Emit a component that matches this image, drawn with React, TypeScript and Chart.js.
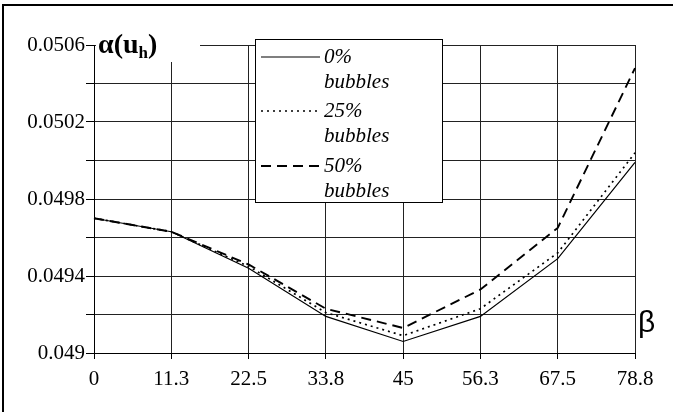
import React, { useEffect, useRef } from "react";
import { Chart, registerables } from "chart.js";

Chart.register(...registerables);

// β values along the horizontal axis
const CATEGORIES = ["0", "11.3", "22.5", "33.8", "45", "56.3", "67.5", "78.8"];

// α(u_h) for each bubble fraction
const BUBBLES_0 = [0.0497, 0.04963, 0.04944, 0.04919, 0.04906, 0.04919, 0.04949, 0.04999];
const BUBBLES_25 = [0.0497, 0.04963, 0.04945, 0.04921, 0.04909, 0.04923, 0.04952, 0.05004];
const BUBBLES_50 = [0.0497, 0.04963, 0.04946, 0.04923, 0.04913, 0.04933, 0.04965, 0.05048];

const SERIES_LABELS = ["0%", "25%", "50%"];
const Y_MIN = 0.049;
const Y_MAX = 0.0506;
const Y_STEP = 0.0002;
const Y_LABEL_STEP = 0.0004;

const SERIF = "'Liberation Serif', 'Times New Roman', serif";
const SANS = "'Liberation Sans', Arial, sans-serif";

const STYLES = [
  { width: 1.2, dash: [] as number[] },
  { width: 1.7, dash: [2, 4] },
  { width: 1.9, dash: [10, 6] },
];

const decorations = {
  id: "decorations",
  afterDraw(chart: any) {
    const ctx = chart.ctx as CanvasRenderingContext2D;
    ctx.save();

    // frame around the figure
    ctx.strokeStyle = "#000";
    ctx.lineWidth = 2;
    ctx.beginPath();
    ctx.moveTo(3, 412);
    ctx.lineTo(3, 5);
    ctx.lineTo(673, 5);
    ctx.stroke();

    // vertical axis title
    ctx.fillStyle = "#fff";
    ctx.fillRect(96, 22, 104, 40);
    ctx.fillStyle = "#000";
    ctx.textBaseline = "alphabetic";
    ctx.textAlign = "left";
    let x = 98;
    const base = 53;
    ctx.font = `bold 28px ${SERIF}`;
    ctx.fillText("α(u", x, base);
    x += ctx.measureText("α(u").width;
    ctx.font = `bold 17px ${SERIF}`;
    ctx.fillText("h", x, base + 5);
    x += ctx.measureText("h").width;
    ctx.font = `bold 28px ${SERIF}`;
    ctx.fillText(")", x, base);

    // horizontal axis title
    ctx.font = `30px ${SANS}`;
    ctx.fillText("β", 638, 332);

    // legend
    const lx = 255.5, ly = 39.5, lw = 187, lh = 163;
    ctx.fillStyle = "#fff";
    ctx.fillRect(lx, ly, lw, lh);
    ctx.strokeStyle = "#000";
    ctx.lineWidth = 1;
    ctx.strokeRect(lx, ly, lw, lh);
    const rows = [57, 111, 166];
    ctx.font = `italic 21px ${SERIF}`;
    ctx.textBaseline = "middle";
    rows.forEach((ry, i) => {
      ctx.lineWidth = STYLES[i].width;
      ctx.setLineDash(STYLES[i].dash);
      ctx.beginPath();
      ctx.moveTo(261, ry);
      ctx.lineTo(320, ry);
      ctx.stroke();
      ctx.setLineDash([]);
      ctx.fillStyle = "#000";
      ctx.fillText(SERIES_LABELS[i], 324, ry);
      ctx.fillText("bubbles", 324, ry + 25);
    });

    ctx.restore();
  },
};

export default function App() {
  const ref = useRef<HTMLCanvasElement>(null);

  useEffect(() => {
    if (!ref.current) return;
    const data = [BUBBLES_0, BUBBLES_25, BUBBLES_50];
    const chart = new Chart(ref.current, {
      type: "line",
      data: {
        labels: CATEGORIES,
        datasets: data.map((values, i) => ({
          label: SERIES_LABELS[i] + " bubbles",
          data: values,
          borderColor: "#000",
          borderWidth: STYLES[i].width,
          borderDash: STYLES[i].dash,
          pointRadius: 0,
          tension: 0,
          fill: false,
        })),
      },
      options: {
        responsive: false,
        animation: false,
        devicePixelRatio: 1,
        layout: { padding: { top: 45, right: 38, left: 0, bottom: 0 } },
        plugins: { legend: { display: false }, tooltip: { enabled: false } },
        scales: {
          x: {
            type: "category",
            offset: false,
            afterFit: (s: any) => {
              s.height = 59;
            },
            grid: { color: "#222", lineWidth: 1, tickLength: 6, tickColor: "#000" },
            border: { color: "#000", width: 1 },
            ticks: {
              color: "#000",
              font: { family: SERIF, size: 21 },
              padding: 8,
              maxRotation: 0,
              autoSkip: false,
            },
          },
          y: {
            min: Y_MIN,
            max: Y_MAX,
            afterFit: (s: any) => {
              s.width = 94;
            },
            grid: { color: "#222", lineWidth: 1, tickLength: 8, tickColor: "#000" },
            border: { color: "#000", width: 1 },
            ticks: {
              stepSize: Y_STEP,
              color: "#000",
              padding: 1,
              font: { family: SERIF, size: 21 },
              callback: (v: any) => {
                const n = Math.round((Number(v) - Y_MIN) / Y_STEP);
                const perLabel = Math.round(Y_LABEL_STEP / Y_STEP);
                if (n % perLabel !== 0) return "";
                return String(parseFloat((Y_MIN + n * Y_STEP).toFixed(4)));
              },
            },
          },
        },
      },
      plugins: [decorations],
    });
    return () => chart.destroy();
  }, []);

  return (
    <div style={{ position: "absolute", left: 0, top: 0, width: 673, height: 412, background: "#fff" }}>
      <canvas ref={ref} width={673} height={412} style={{ display: "block" }} />
    </div>
  );
}
